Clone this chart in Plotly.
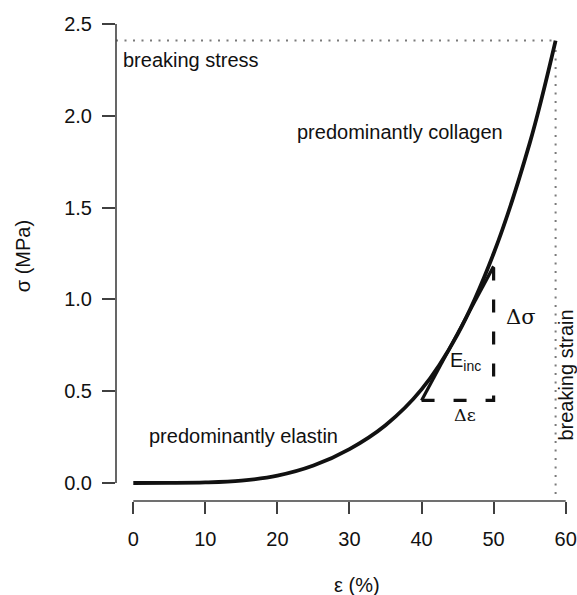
import plotly.graph_objects as go

# Stress-strain curve of an arterial wall sample
strain = [0, 5, 10, 15, 20, 25, 30, 35, 40, 45, 50, 55, 58.6]          # ε (%)
stress = [0, 0.0003, 0.003, 0.013, 0.040, 0.095, 0.185, 0.315, 0.51, 0.81, 1.25, 1.85, 2.41]  # σ (MPa)

# Incremental modulus triangle
eps_lo, eps_hi = 40, 50
sig_lo, sig_hi = 0.45, 1.18

# Breaking point
break_strain = 58.6
break_stress = 2.41

x_ticks = [0, 10, 20, 30, 40, 50, 60]
y_ticks = [0.0, 0.5, 1.0, 1.5, 2.0, 2.5]
y_ticktext = [f"{v:.1f}" for v in y_ticks]

X_RANGE = [-2.40, 61.57]
Y_RANGE = [-0.098, 2.522]
AXIS_COLOR = "#404040"
INK = "#111111"
SANS = "Liberation Sans, Arial, sans-serif"
SERIF = "DejaVu Serif, Liberation Serif, serif"
FS = 20

fig = go.Figure()

# dotted guides for the breaking stress / strain
dotted = dict(color="#7a7a7a", width=2, dash="2px,6.5px")
fig.add_trace(go.Scatter(
    x=[X_RANGE[0], break_strain], y=[break_stress, break_stress],
    mode="lines", line=dotted, hoverinfo="skip", showlegend=False))
fig.add_trace(go.Scatter(
    x=[break_strain, break_strain], y=[-0.06, break_stress],
    mode="lines", line=dotted, hoverinfo="skip", showlegend=False))

# stress-strain curve
fig.add_trace(go.Scatter(
    x=strain, y=stress, mode="lines",
    line=dict(color=INK, width=3.8, shape="spline", smoothing=1.0),
    hoverinfo="skip", showlegend=False))

# dashed legs of the triangle
fig.add_trace(go.Scatter(
    x=[eps_lo, eps_hi, eps_hi], y=[sig_lo, sig_lo, sig_hi], mode="lines",
    line=dict(color=INK, width=3.2, dash="13px,19px"),
    hoverinfo="skip", showlegend=False))
# tangent (hypotenuse)
fig.add_trace(go.Scatter(
    x=[eps_lo, eps_hi], y=[sig_lo, sig_hi], mode="lines",
    line=dict(color=INK, width=3.2),
    hoverinfo="skip", showlegend=False))

# axis spines spanning only the tick range
fig.add_shape(type="line", xref="paper", yref="y", x0=0, x1=0,
              y0=y_ticks[0], y1=y_ticks[-1], line=dict(color=AXIS_COLOR, width=1.6))
fig.add_shape(type="line", xref="x", yref="paper", x0=x_ticks[0], x1=x_ticks[-1],
              y0=0, y1=0, line=dict(color=AXIS_COLOR, width=1.6))

def label(text, x, y, xanchor="center", angle=0, family=SANS, size=FS, ref="data"):
    xr, yr = ("x", "y") if ref == "data" else ("paper", "paper")
    fig.add_annotation(text=text, x=x, y=y, xref=xr, yref=yr,
                       xanchor=xanchor, yanchor="middle", textangle=angle,
                       showarrow=False, font=dict(family=family, size=size, color=INK))

label("breaking stress", -1.71, 2.306, xanchor="left")
label("predominantly collagen", 36.99, 1.910)
label("predominantly elastin", 1.86, 0.258, xanchor="left")
label("Δσ", 53.8, 0.905, family=SERIF, size=21)
label("E<sub>inc</sub>", 43.7, 0.661, xanchor="left")
label("Δε", 45.98, 0.37, family=SERIF, size=17.5)
label("breaking strain", 60.12, 0.588, angle=-90)

# axis titles
label("σ (MPa)", -0.2017, 0.509, angle=-90, ref="paper")
label("ε (%)", 0.5217, -0.1746, ref="paper")

fig.update_layout(
    width=577, height=595,
    margin=dict(l=116, r=0, t=20, b=94),
    paper_bgcolor="white", plot_bgcolor="white",
    font=dict(family=SANS, size=FS, color=INK),
    xaxis=dict(range=X_RANGE, showgrid=False, zeroline=False, showline=False,
               tickvals=x_ticks, ticks="outside", ticklen=12, tickwidth=1.6,
               tickcolor=AXIS_COLOR, ticklabelstandoff=8,
               tickfont=dict(family=SANS, size=FS, color=INK)),
    yaxis=dict(range=Y_RANGE, showgrid=False, zeroline=False, showline=False,
               tickvals=y_ticks, ticktext=y_ticktext, ticks="outside", ticklen=13,
               tickwidth=1.6, tickcolor=AXIS_COLOR, ticklabelstandoff=6,
               tickfont=dict(family=SANS, size=FS, color=INK)),
)

fig.write_html("out.html")
